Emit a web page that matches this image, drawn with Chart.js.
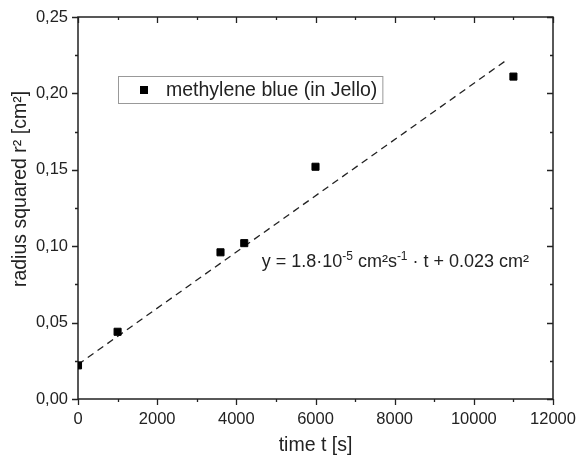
<!DOCTYPE html>
<html>
<head>
<meta charset="utf-8">
<script src="https://cdn.jsdelivr.net/npm/chart.js@4.4.1/dist/chart.umd.min.js"></script>
<style>
  html, body { margin: 0; padding: 0; background: #fff; }
</style>
</head>
<body>
<canvas id="diffChart" width="576" height="457"></canvas>
<script>
// measured points (time in s, r^2 in cm^2)
const timeS = [0, 1000, 3600, 4200, 6000, 11000];
const radiusSq = [0.022, 0.044, 0.096, 0.102, 0.152, 0.211];

// linear fit, drawn as a dashed line
const fitTime = [0, 10800];
const fitRadiusSq = [0.0226, 0.2213];

const seriesLabel = 'methylene blue (in Jello)';
const FONT = '"Liberation Sans", Arial, sans-serif';
const TEXT = '#222';

// equation text, pieces flagged true are superscript
const eqParts = [
    ['y = 1.8·10', false],
    ['-5', true],
    [' cm²s', false],
    ['-1', true],
    [' · t + 0.023 cm²', false]
];

const isMajorX = v => Math.round(v) % 2000 === 0;
const isMajorY = v => Math.round(v * 1000) % 50 === 0;

const frameAndText = {
    id: 'frameAndText',
    beforeDatasetsDraw(chart) {
        const ctx = chart.ctx;
        const a = chart.chartArea;
        const xs = chart.scales.x;
        const ys = chart.scales.y;
        ctx.save();
        ctx.strokeStyle = TEXT;
        ctx.lineWidth = 1.3;
        ctx.beginPath();
        // bottom ticks point out, top ticks point in
        xs.ticks.forEach(t => {
            const px = Math.round(xs.getPixelForValue(t.value)) + 0.5;
            const len = isMajorX(t.value) ? 6 : 3;
            ctx.moveTo(px, a.bottom); ctx.lineTo(px, a.bottom + len);
            ctx.moveTo(px, a.top); ctx.lineTo(px, a.top + len);
        });
        // left ticks point out, right ticks point in
        ys.ticks.forEach(t => {
            const py = Math.round(ys.getPixelForValue(t.value)) + 0.5;
            const len = isMajorY(t.value) ? 6 : 3;
            ctx.moveTo(a.left, py); ctx.lineTo(a.left - len, py);
            ctx.moveTo(a.right, py); ctx.lineTo(a.right - len, py);
        });
        ctx.stroke();
        ctx.lineWidth = 1.5;
        ctx.strokeRect(a.left, a.top, a.right - a.left, a.bottom - a.top);
        ctx.restore();
    },
    afterDraw(chart) {
        const ctx = chart.ctx;
        const a = chart.chartArea;
        const xs = chart.scales.x;
        const ys = chart.scales.y;
        ctx.save();

        // y axis title, sits a bit above the middle in the original
        ctx.translate(a.left - 57, (a.top + a.bottom) / 2 - 19);
        ctx.rotate(-Math.PI / 2);
        ctx.font = '19.5px ' + FONT;
        ctx.fillStyle = TEXT;
        ctx.textAlign = 'center';
        ctx.textBaseline = 'middle';
        ctx.fillText('radius squared r² [cm²]', 0, 0);
        ctx.setTransform(1, 0, 0, 1, 0, 0);

        // legend box
        const lx = a.left + 40, ly = a.top + 59, lh = 27;
        ctx.font = '19.5px ' + FONT;
        const tw = ctx.measureText(seriesLabel).width;
        ctx.strokeStyle = '#999';
        ctx.lineWidth = 1;
        ctx.strokeRect(lx + 0.5, ly + 0.5, 48 + tw + 5, lh);
        ctx.fillStyle = '#000';
        ctx.fillRect(lx + 22, ly + lh / 2 - 3.5, 8, 8);
        ctx.fillStyle = TEXT;
        ctx.textAlign = 'left';
        ctx.textBaseline = 'middle';
        ctx.fillText(seriesLabel, lx + 48, ly + lh / 2 + 1);

        // fit equation, anchored in data coordinates
        let ex = xs.getPixelForValue(4640);
        const ey = ys.getPixelForValue(0.0865);
        ctx.textBaseline = 'alphabetic';
        eqParts.forEach(([txt, sup]) => {
            ctx.font = (sup ? '12px ' : '18px ') + FONT;
            ctx.fillText(txt, ex, sup ? ey - 7 : ey);
            ex += ctx.measureText(txt).width;
        });
        ctx.restore();
    }
};

const el = document.getElementById('diffChart');
new Chart(el, {
    type: 'scatter',
    data: {
        datasets: [
            {
                label: seriesLabel,
                data: timeS.map((t, i) => ({ x: t, y: radiusSq[i] })),
                pointStyle: 'rect',
                pointRadius: 5,
                pointBorderWidth: 1,
                backgroundColor: '#000',
                borderColor: '#000',
                order: 0
            },
            {
                label: 'fit',
                data: fitTime.map((t, i) => ({ x: t, y: fitRadiusSq[i] })),
                showLine: true,
                pointRadius: 0,
                borderColor: TEXT,
                borderWidth: 1.3,
                borderDash: [7, 5],
                order: 1
            }
        ]
    },
    options: {
        responsive: false,
        animation: false,
        layout: { padding: { top: 17, right: 23, left: 0, bottom: 0 } },
        plugins: {
            legend: { display: false },
            tooltip: { enabled: false }
        },
        scales: {
            x: {
                type: 'linear',
                min: 0,
                max: 12000,
                grid: { display: false, drawTicks: false },
                border: { display: false },
                ticks: {
                    stepSize: 1000,
                    autoSkip: false,
                    maxRotation: 0,
                    padding: 11,
                    color: TEXT,
                    font: { size: 16.5, family: FONT },
                    callback: v => isMajorX(v) ? String(v) : ''
                },
                title: {
                    display: true,
                    text: 'time t [s]',
                    color: TEXT,
                    font: { size: 19.5, family: FONT },
                    padding: { top: 0, bottom: 0 }
                },
                afterFit: s => {
                    s.height = 58;
                    s.paddingLeft = 0;
                    s.paddingRight = 0;
                }
            },
            y: {
                min: 0,
                max: 0.25,
                grid: { display: false, drawTicks: false },
                border: { display: false },
                ticks: {
                    stepSize: 0.025,
                    autoSkip: false,
                    padding: 10,
                    color: TEXT,
                    font: { size: 16.5, family: FONT },
                    callback: v => isMajorY(v) ? v.toFixed(2).replace('.', ',') : ''
                },
                afterFit: s => {
                    s.width = 78;
                    s.paddingTop = 0;
                    s.paddingBottom = 0;
                }
            }
        }
    },
    plugins: [frameAndText]
});
</script>
</body>
</html>
